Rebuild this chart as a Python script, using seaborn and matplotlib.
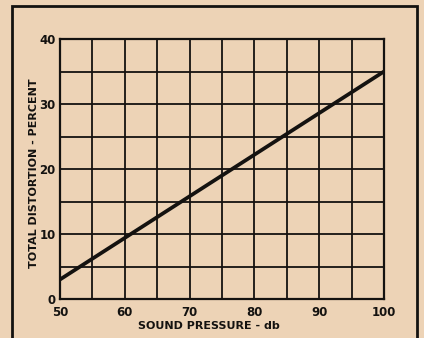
import matplotlib
matplotlib.use("Agg")
import matplotlib.pyplot as plt
from matplotlib.patches import Rectangle
import numpy as np
import pandas as pd
import seaborn as sns

# Distortion curve: total distortion vs. sound pressure level
sound_pressure_db = [50, 100]
total_distortion_pct = [3, 35]

x_ticks = [50, 60, 70, 80, 90, 100]
y_ticks = [0, 10, 20, 30, 40]

paper = "#EDD3B6"
ink = "#141210"

sns.set_theme(style="white")
plt.rcParams["font.family"] = ["DejaVu Sans"]

fig = plt.figure(figsize=(4.24, 3.38), dpi=100, facecolor=paper)
ax = fig.add_axes([60 / 424, 1 - 299 / 338, 324 / 424, 260 / 338])
ax.set_facecolor(paper)

df = pd.DataFrame({"db": sound_pressure_db, "pct": total_distortion_pct})
sns.lineplot(data=df, x="db", y="pct", ax=ax, color=ink, linewidth=2.7,
             solid_capstyle="butt")

ax.set_xlim(50, 100)
ax.set_ylim(0, 40)
ax.set_xticks(x_ticks)
ax.set_yticks(y_ticks)
ax.set_xticks(np.arange(50, 101, 5), minor=True)
ax.set_yticks(np.arange(0, 41, 5), minor=True)
ax.grid(True, which="both", color=ink, linewidth=1.3)
ax.set_axisbelow(True)
ax.tick_params(axis="both", which="both", length=0, labelcolor=ink,
               labelsize=8.5)
ax.tick_params(axis="x", pad=5)
ax.tick_params(axis="y", pad=3)
for lab in ax.get_xticklabels() + ax.get_yticklabels():
    lab.set_fontweight("bold")
for sp in ax.spines.values():
    sp.set_visible(True)
    sp.set_color(ink)
    sp.set_linewidth(1.6)

ax.set_xlabel("SOUND PRESSURE - db", fontsize=8, fontweight="bold",
              color=ink)
ax.set_ylabel("TOTAL DISTORTION - PERCENT", fontsize=8, fontweight="bold",
              color=ink)
ax.xaxis.set_label_coords(0.46, -0.085)
ax.yaxis.set_label_coords(-0.064, 0.484)

# outer border of the figure panel
fig.patches.append(Rectangle((12 / 424, -0.05), (417 - 12) / 424,
                             1.05 - 6 / 338, transform=fig.transFigure,
                             fill=False, edgecolor=ink, linewidth=2.0))

fig.savefig("out.png", dpi=100, facecolor=paper)
